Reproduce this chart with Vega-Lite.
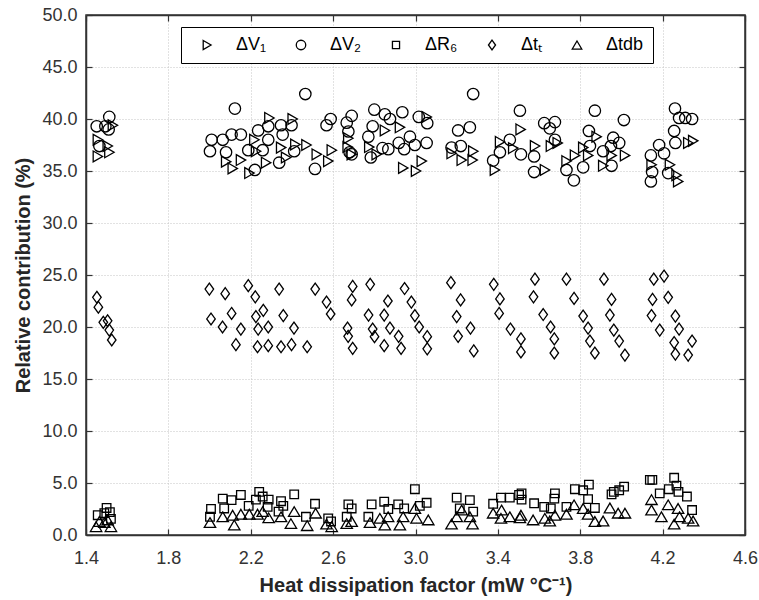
{
  "$schema": "https://vega.github.io/schema/vega-lite/v6.json",
  "width": 659,
  "height": 520,
  "autosize": {"type": "none"},
  "padding": {"left": 86, "top": 15, "right": 14, "bottom": 65},
  "background": "white",
  "config": {
    "font": "Liberation Sans",
    "view": {"stroke": "#333333", "strokeWidth": 1.5},
    "axis": {
      "labelFont": "Liberation Sans",
      "labelFontSize": 18,
      "labelColor": "#333333",
      "titleFont": "Liberation Sans",
      "titleFontSize": 20,
      "titleFontWeight": "bold",
      "titleColor": "#262626",
      "domainColor": "#333333",
      "domainWidth": 1.5,
      "tickColor": "#333333",
      "tickWidth": 1.2,
      "tickSize": -6,
      "gridColor": "#c4c4c4",
      "gridDash": [1, 2],
      "gridWidth": 1,
      "labelOverlap": false,
      "labelFlush": false
    }
  },
  "data": {
    "values": [
      {"s": "ΔV₁", "x": 1.457, "y": 38.0}, {"s": "ΔV₁", "x": 1.457, "y": 36.4}, {"s": "ΔV₁", "x": 1.505, "y": 37.4}, {"s": "ΔV₁", "x": 1.513, "y": 36.8}, {"s": "ΔV₁", "x": 1.53, "y": 39.4},
      {"s": "ΔV₁", "x": 2.08, "y": 35.9}, {"s": "ΔV₁", "x": 2.112, "y": 35.25}, {"s": "ΔV₁", "x": 2.152, "y": 36.05}, {"s": "ΔV₁", "x": 2.217, "y": 38.0}, {"s": "ΔV₁", "x": 2.193, "y": 34.8}, {"s": "ΔV₁", "x": 2.225, "y": 36.9}, {"s": "ΔV₁", "x": 2.274, "y": 35.8}, {"s": "ΔV₁", "x": 2.29, "y": 40.1}, {"s": "ΔV₁", "x": 2.347, "y": 37.25}, {"s": "ΔV₁", "x": 2.403, "y": 40.0}, {"s": "ΔV₁", "x": 2.416, "y": 37.55}, {"s": "ΔV₁", "x": 2.371, "y": 36.3}, {"s": "ΔV₁", "x": 2.47, "y": 37.5},
      {"s": "ΔV₁", "x": 2.52, "y": 36.6}, {"s": "ΔV₁", "x": 2.593, "y": 37.0}, {"s": "ΔV₁", "x": 2.576, "y": 35.95}, {"s": "ΔV₁", "x": 2.673, "y": 38.15}, {"s": "ΔV₁", "x": 2.67, "y": 37.3}, {"s": "ΔV₁", "x": 2.69, "y": 36.6}, {"s": "ΔV₁", "x": 2.851, "y": 38.9}, {"s": "ΔV₁", "x": 2.924, "y": 39.2}, {"s": "ΔV₁", "x": 2.775, "y": 37.3}, {"s": "ΔV₁", "x": 2.811, "y": 36.6}, {"s": "ΔV₁", "x": 2.94, "y": 35.3}, {"s": "ΔV₁", "x": 3.002, "y": 35.0}, {"s": "ΔV₁", "x": 3.03, "y": 35.95}, {"s": "ΔV₁", "x": 3.054, "y": 40.2}, {"s": "ΔV₁", "x": 3.175, "y": 36.7}, {"s": "ΔV₁", "x": 3.224, "y": 36.05}, {"s": "ΔV₁", "x": 3.28, "y": 36.9}, {"s": "ΔV₁", "x": 3.277, "y": 36.05}, {"s": "ΔV₁", "x": 3.385, "y": 35.1}, {"s": "ΔV₁", "x": 3.41, "y": 37.8}, {"s": "ΔV₁", "x": 3.474, "y": 37.2}, {"s": "ΔV₁", "x": 3.51, "y": 39.0},
      {"s": "ΔV₁", "x": 3.58, "y": 37.4}, {"s": "ΔV₁", "x": 3.628, "y": 35.1}, {"s": "ΔV₁", "x": 3.657, "y": 37.4}, {"s": "ΔV₁", "x": 3.69, "y": 37.7}, {"s": "ΔV₁", "x": 3.733, "y": 35.95}, {"s": "ΔV₁", "x": 3.774, "y": 36.5}, {"s": "ΔV₁", "x": 3.814, "y": 37.25}, {"s": "ΔV₁", "x": 3.838, "y": 36.5}, {"s": "ΔV₁", "x": 3.879, "y": 38.3}, {"s": "ΔV₁", "x": 3.911, "y": 35.5}, {"s": "ΔV₁", "x": 3.952, "y": 36.5}, {"s": "ΔV₁", "x": 4.017, "y": 36.5}, {"s": "ΔV₁", "x": 4.146, "y": 35.6}, {"s": "ΔV₁", "x": 4.235, "y": 35.6}, {"s": "ΔV₁", "x": 4.267, "y": 34.6}, {"s": "ΔV₁", "x": 4.275, "y": 34.0}, {"s": "ΔV₁", "x": 4.324, "y": 37.7}, {"s": "ΔV₁", "x": 4.348, "y": 37.9},

      {"s": "ΔV₂", "x": 1.452, "y": 39.3}, {"s": "ΔV₂", "x": 1.513, "y": 40.2}, {"s": "ΔV₂", "x": 1.494, "y": 39.3}, {"s": "ΔV₂", "x": 1.51, "y": 39.0}, {"s": "ΔV₂", "x": 1.465, "y": 37.4},
      {"s": "ΔV₂", "x": 2.123, "y": 41.0}, {"s": "ΔV₂", "x": 2.01, "y": 38.0}, {"s": "ΔV₂", "x": 2.002, "y": 36.9}, {"s": "ΔV₂", "x": 2.064, "y": 38.0}, {"s": "ΔV₂", "x": 2.08, "y": 36.8}, {"s": "ΔV₂", "x": 2.107, "y": 38.5}, {"s": "ΔV₂", "x": 2.152, "y": 38.5}, {"s": "ΔV₂", "x": 2.188, "y": 37.0}, {"s": "ΔV₂", "x": 2.236, "y": 38.9}, {"s": "ΔV₂", "x": 2.285, "y": 39.3}, {"s": "ΔV₂", "x": 2.285, "y": 38.0}, {"s": "ΔV₂", "x": 2.258, "y": 37.0}, {"s": "ΔV₂", "x": 2.22, "y": 35.1}, {"s": "ΔV₂", "x": 2.347, "y": 39.4}, {"s": "ΔV₂", "x": 2.355, "y": 38.5}, {"s": "ΔV₂", "x": 2.398, "y": 39.4}, {"s": "ΔV₂", "x": 2.411, "y": 36.9}, {"s": "ΔV₂", "x": 2.338, "y": 35.8}, {"s": "ΔV₂", "x": 2.465, "y": 42.4},
      {"s": "ΔV₂", "x": 2.512, "y": 35.2}, {"s": "ΔV₂", "x": 2.568, "y": 39.4}, {"s": "ΔV₂", "x": 2.588, "y": 40.0}, {"s": "ΔV₂", "x": 2.666, "y": 39.65}, {"s": "ΔV₂", "x": 2.69, "y": 40.3}, {"s": "ΔV₂", "x": 2.674, "y": 38.8}, {"s": "ΔV₂", "x": 2.69, "y": 36.6}, {"s": "ΔV₂", "x": 2.68, "y": 36.8}, {"s": "ΔV₂", "x": 2.8, "y": 40.9}, {"s": "ΔV₂", "x": 2.792, "y": 39.3}, {"s": "ΔV₂", "x": 2.771, "y": 38.3}, {"s": "ΔV₂", "x": 2.783, "y": 36.3}, {"s": "ΔV₂", "x": 2.84, "y": 37.2}, {"s": "ΔV₂", "x": 2.851, "y": 40.45}, {"s": "ΔV₂", "x": 2.876, "y": 40.0}, {"s": "ΔV₂", "x": 2.936, "y": 40.65}, {"s": "ΔV₂", "x": 2.868, "y": 37.1}, {"s": "ΔV₂", "x": 2.919, "y": 37.7}, {"s": "ΔV₂", "x": 2.973, "y": 38.3}, {"s": "ΔV₂", "x": 2.945, "y": 37.1}, {"s": "ΔV₂", "x": 2.997, "y": 37.5}, {"s": "ΔV₂", "x": 3.016, "y": 40.2}, {"s": "ΔV₂", "x": 3.057, "y": 39.6}, {"s": "ΔV₂", "x": 3.054, "y": 37.7}, {"s": "ΔV₂", "x": 3.28, "y": 42.4}, {"s": "ΔV₂", "x": 3.207, "y": 38.9}, {"s": "ΔV₂", "x": 3.264, "y": 39.2}, {"s": "ΔV₂", "x": 3.175, "y": 37.25}, {"s": "ΔV₂", "x": 3.22, "y": 37.4}, {"s": "ΔV₂", "x": 3.377, "y": 36.0}, {"s": "ΔV₂", "x": 3.41, "y": 36.8}, {"s": "ΔV₂", "x": 3.458, "y": 38.0}, {"s": "ΔV₂", "x": 3.507, "y": 40.8},
      {"s": "ΔV₂", "x": 3.512, "y": 36.6}, {"s": "ΔV₂", "x": 3.625, "y": 39.6}, {"s": "ΔV₂", "x": 3.652, "y": 39.1}, {"s": "ΔV₂", "x": 3.677, "y": 39.7}, {"s": "ΔV₂", "x": 3.677, "y": 38.0}, {"s": "ΔV₂", "x": 3.576, "y": 36.4}, {"s": "ΔV₂", "x": 3.576, "y": 34.9}, {"s": "ΔV₂", "x": 3.733, "y": 35.1}, {"s": "ΔV₂", "x": 3.769, "y": 34.1}, {"s": "ΔV₂", "x": 3.814, "y": 35.35}, {"s": "ΔV₂", "x": 3.842, "y": 38.85}, {"s": "ΔV₂", "x": 3.871, "y": 40.8}, {"s": "ΔV₂", "x": 3.847, "y": 37.4}, {"s": "ΔV₂", "x": 3.911, "y": 36.9}, {"s": "ΔV₂", "x": 3.96, "y": 38.2}, {"s": "ΔV₂", "x": 3.949, "y": 37.4}, {"s": "ΔV₂", "x": 3.989, "y": 37.7}, {"s": "ΔV₂", "x": 4.012, "y": 39.9}, {"s": "ΔV₂", "x": 3.952, "y": 35.5}, {"s": "ΔV₂", "x": 4.143, "y": 36.5}, {"s": "ΔV₂", "x": 4.183, "y": 37.5}, {"s": "ΔV₂", "x": 4.207, "y": 36.7}, {"s": "ΔV₂", "x": 4.149, "y": 34.9}, {"s": "ΔV₂", "x": 4.143, "y": 34.0}, {"s": "ΔV₂", "x": 4.227, "y": 34.8}, {"s": "ΔV₂", "x": 4.26, "y": 41.0}, {"s": "ΔV₂", "x": 4.28, "y": 40.1}, {"s": "ΔV₂", "x": 4.343, "y": 40.0}, {"s": "ΔV₂", "x": 4.31, "y": 40.1}, {"s": "ΔV₂", "x": 4.256, "y": 38.85}, {"s": "ΔV₂", "x": 4.262, "y": 37.7},

      {"s": "ΔR₆", "x": 1.457, "y": 1.9}, {"s": "ΔR₆", "x": 1.5, "y": 2.6}, {"s": "ΔR₆", "x": 1.516, "y": 2.2}, {"s": "ΔR₆", "x": 1.521, "y": 1.55}, {"s": "ΔR₆", "x": 1.489, "y": 2.1},
      {"s": "ΔR₆", "x": 2.007, "y": 2.5}, {"s": "ΔR₆", "x": 2.002, "y": 1.75}, {"s": "ΔR₆", "x": 2.064, "y": 3.5}, {"s": "ΔR₆", "x": 2.107, "y": 3.35}, {"s": "ΔR₆", "x": 2.152, "y": 3.85}, {"s": "ΔR₆", "x": 2.241, "y": 4.15}, {"s": "ΔR₆", "x": 2.225, "y": 3.4}, {"s": "ΔR₆", "x": 2.258, "y": 3.7}, {"s": "ΔR₆", "x": 2.287, "y": 3.4}, {"s": "ΔR₆", "x": 2.19, "y": 2.8}, {"s": "ΔR₆", "x": 2.071, "y": 2.55}, {"s": "ΔR₆", "x": 2.282, "y": 2.7}, {"s": "ΔR₆", "x": 2.347, "y": 3.25}, {"s": "ΔR₆", "x": 2.358, "y": 2.8}, {"s": "ΔR₆", "x": 2.411, "y": 3.9}, {"s": "ΔR₆", "x": 2.335, "y": 2.25}, {"s": "ΔR₆", "x": 2.468, "y": 1.75},
      {"s": "ΔR₆", "x": 2.512, "y": 3.0}, {"s": "ΔR₆", "x": 2.576, "y": 1.6}, {"s": "ΔR₆", "x": 2.59, "y": 1.3}, {"s": "ΔR₆", "x": 2.674, "y": 2.95}, {"s": "ΔR₆", "x": 2.69, "y": 2.55}, {"s": "ΔR₆", "x": 2.666, "y": 1.75}, {"s": "ΔR₆", "x": 2.787, "y": 2.95}, {"s": "ΔR₆", "x": 2.848, "y": 3.2}, {"s": "ΔR₆", "x": 2.868, "y": 2.5}, {"s": "ΔR₆", "x": 2.916, "y": 2.95}, {"s": "ΔR₆", "x": 2.945, "y": 2.55}, {"s": "ΔR₆", "x": 2.997, "y": 4.4}, {"s": "ΔR₆", "x": 3.021, "y": 2.8}, {"s": "ΔR₆", "x": 3.054, "y": 3.1}, {"s": "ΔR₆", "x": 2.771, "y": 1.75}, {"s": "ΔR₆", "x": 3.2, "y": 3.6}, {"s": "ΔR₆", "x": 3.264, "y": 3.35}, {"s": "ΔR₆", "x": 3.215, "y": 2.55}, {"s": "ΔR₆", "x": 3.28, "y": 2.25}, {"s": "ΔR₆", "x": 3.377, "y": 3.0}, {"s": "ΔR₆", "x": 3.415, "y": 3.6}, {"s": "ΔR₆", "x": 3.458, "y": 3.6}, {"s": "ΔR₆", "x": 3.503, "y": 3.85},
      {"s": "ΔR₆", "x": 3.515, "y": 4.0}, {"s": "ΔR₆", "x": 3.515, "y": 3.4}, {"s": "ΔR₆", "x": 3.576, "y": 3.05}, {"s": "ΔR₆", "x": 3.625, "y": 2.7}, {"s": "ΔR₆", "x": 3.657, "y": 2.55}, {"s": "ΔR₆", "x": 3.677, "y": 4.0}, {"s": "ΔR₆", "x": 3.674, "y": 3.5}, {"s": "ΔR₆", "x": 3.733, "y": 2.7}, {"s": "ΔR₆", "x": 3.774, "y": 4.4}, {"s": "ΔR₆", "x": 3.814, "y": 4.3}, {"s": "ΔR₆", "x": 3.842, "y": 4.85}, {"s": "ΔR₆", "x": 3.838, "y": 3.45}, {"s": "ΔR₆", "x": 3.871, "y": 2.6}, {"s": "ΔR₆", "x": 3.952, "y": 3.9}, {"s": "ΔR₆", "x": 3.963, "y": 4.15}, {"s": "ΔR₆", "x": 3.989, "y": 4.3}, {"s": "ΔR₆", "x": 4.013, "y": 4.65}, {"s": "ΔR₆", "x": 4.138, "y": 5.3}, {"s": "ΔR₆", "x": 4.15, "y": 5.3}, {"s": "ΔR₆", "x": 4.186, "y": 4.0}, {"s": "ΔR₆", "x": 4.23, "y": 4.4}, {"s": "ΔR₆", "x": 4.256, "y": 5.5}, {"s": "ΔR₆", "x": 4.267, "y": 4.75}, {"s": "ΔR₆", "x": 4.277, "y": 4.15}, {"s": "ΔR₆", "x": 4.318, "y": 3.7}, {"s": "ΔR₆", "x": 4.343, "y": 2.4},

      {"s": "Δtₜ", "x": 1.453, "y": 22.86}, {"s": "Δtₜ", "x": 1.46, "y": 21.9}, {"s": "Δtₜ", "x": 1.484, "y": 20.45}, {"s": "Δtₜ", "x": 1.505, "y": 20.6}, {"s": "Δtₜ", "x": 1.513, "y": 19.7}, {"s": "Δtₜ", "x": 1.525, "y": 18.75},
      {"s": "Δtₜ", "x": 1.999, "y": 23.65}, {"s": "Δtₜ", "x": 2.007, "y": 20.77}, {"s": "Δtₜ", "x": 2.076, "y": 23.2}, {"s": "Δtₜ", "x": 2.063, "y": 20.0}, {"s": "Δtₜ", "x": 2.107, "y": 21.3}, {"s": "Δtₜ", "x": 2.128, "y": 18.3}, {"s": "Δtₜ", "x": 2.152, "y": 19.8}, {"s": "Δtₜ", "x": 2.188, "y": 23.97}, {"s": "Δtₜ", "x": 2.222, "y": 22.9}, {"s": "Δtₜ", "x": 2.225, "y": 21.0}, {"s": "Δtₜ", "x": 2.261, "y": 21.6}, {"s": "Δtₜ", "x": 2.236, "y": 19.8}, {"s": "Δtₜ", "x": 2.285, "y": 20.0}, {"s": "Δtₜ", "x": 2.233, "y": 18.1}, {"s": "Δtₜ", "x": 2.285, "y": 18.2}, {"s": "Δtₜ", "x": 2.338, "y": 23.65}, {"s": "Δtₜ", "x": 2.358, "y": 21.1}, {"s": "Δtₜ", "x": 2.347, "y": 18.1}, {"s": "Δtₜ", "x": 2.398, "y": 18.3}, {"s": "Δtₜ", "x": 2.41, "y": 19.9}, {"s": "Δtₜ", "x": 2.474, "y": 18.1}, {"s": "Δtₜ", "x": 2.513, "y": 23.65}, {"s": "Δtₜ", "x": 2.568, "y": 22.4}, {"s": "Δtₜ", "x": 2.588, "y": 21.25},
      {"s": "Δtₜ", "x": 2.695, "y": 23.9}, {"s": "Δtₜ", "x": 2.69, "y": 22.6}, {"s": "Δtₜ", "x": 2.67, "y": 19.9}, {"s": "Δtₜ", "x": 2.673, "y": 19.1}, {"s": "Δtₜ", "x": 2.695, "y": 17.95}, {"s": "Δtₜ", "x": 2.78, "y": 24.1}, {"s": "Δtₜ", "x": 2.772, "y": 21.15}, {"s": "Δtₜ", "x": 2.792, "y": 19.8}, {"s": "Δtₜ", "x": 2.801, "y": 19.07}, {"s": "Δtₜ", "x": 2.866, "y": 22.5}, {"s": "Δtₜ", "x": 2.848, "y": 21.15}, {"s": "Δtₜ", "x": 2.876, "y": 19.9}, {"s": "Δtₜ", "x": 2.848, "y": 18.2}, {"s": "Δtₜ", "x": 2.918, "y": 19.1}, {"s": "Δtₜ", "x": 2.93, "y": 17.95}, {"s": "Δtₜ", "x": 2.947, "y": 23.7}, {"s": "Δtₜ", "x": 2.98, "y": 22.4}, {"s": "Δtₜ", "x": 2.997, "y": 21.1}, {"s": "Δtₜ", "x": 3.018, "y": 20.0}, {"s": "Δtₜ", "x": 3.057, "y": 19.07}, {"s": "Δtₜ", "x": 3.057, "y": 17.9},
      {"s": "Δtₜ", "x": 3.172, "y": 24.26}, {"s": "Δtₜ", "x": 3.219, "y": 22.6}, {"s": "Δtₜ", "x": 3.2, "y": 21.0}, {"s": "Δtₜ", "x": 3.207, "y": 19.1}, {"s": "Δtₜ", "x": 3.267, "y": 19.9}, {"s": "Δtₜ", "x": 3.283, "y": 17.7}, {"s": "Δtₜ", "x": 3.38, "y": 24.1}, {"s": "Δtₜ", "x": 3.41, "y": 22.7}, {"s": "Δtₜ", "x": 3.406, "y": 21.3}, {"s": "Δtₜ", "x": 3.461, "y": 19.8}, {"s": "Δtₜ", "x": 3.512, "y": 18.85}, {"s": "Δtₜ", "x": 3.512, "y": 17.6}, {"s": "Δtₜ", "x": 3.58, "y": 24.6}, {"s": "Δtₜ", "x": 3.573, "y": 22.9}, {"s": "Δtₜ", "x": 3.62, "y": 21.2}, {"s": "Δtₜ", "x": 3.656, "y": 20.0}, {"s": "Δtₜ", "x": 3.674, "y": 18.85}, {"s": "Δtₜ", "x": 3.674, "y": 17.5},
      {"s": "Δtₜ", "x": 3.733, "y": 24.6}, {"s": "Δtₜ", "x": 3.77, "y": 22.75}, {"s": "Δtₜ", "x": 3.814, "y": 21.05}, {"s": "Δtₜ", "x": 3.838, "y": 19.9}, {"s": "Δtₜ", "x": 3.847, "y": 18.65}, {"s": "Δtₜ", "x": 3.871, "y": 17.5}, {"s": "Δtₜ", "x": 3.915, "y": 24.6}, {"s": "Δtₜ", "x": 3.952, "y": 22.65}, {"s": "Δtₜ", "x": 3.944, "y": 21.15}, {"s": "Δtₜ", "x": 3.963, "y": 19.7}, {"s": "Δtₜ", "x": 3.989, "y": 18.65}, {"s": "Δtₜ", "x": 4.017, "y": 17.3},
      {"s": "Δtₜ", "x": 4.157, "y": 24.6}, {"s": "Δtₜ", "x": 4.207, "y": 24.9}, {"s": "Δtₜ", "x": 4.151, "y": 22.65}, {"s": "Δtₜ", "x": 4.146, "y": 21.1}, {"s": "Δtₜ", "x": 4.186, "y": 19.7}, {"s": "Δtₜ", "x": 4.227, "y": 22.85}, {"s": "Δtₜ", "x": 4.262, "y": 21.05}, {"s": "Δtₜ", "x": 4.28, "y": 19.8}, {"s": "Δtₜ", "x": 4.256, "y": 18.5}, {"s": "Δtₜ", "x": 4.262, "y": 17.4}, {"s": "Δtₜ", "x": 4.343, "y": 18.65}, {"s": "Δtₜ", "x": 4.324, "y": 17.3},

      {"s": "Δtdb", "x": 1.449, "y": 0.8}, {"s": "Δtdb", "x": 1.465, "y": 1.3}, {"s": "Δtdb", "x": 1.489, "y": 1.2}, {"s": "Δtdb", "x": 1.505, "y": 1.45}, {"s": "Δtdb", "x": 1.521, "y": 0.8},
      {"s": "Δtdb", "x": 2.002, "y": 1.2}, {"s": "Δtdb", "x": 2.064, "y": 1.75}, {"s": "Δtdb", "x": 2.112, "y": 1.9}, {"s": "Δtdb", "x": 2.12, "y": 0.95}, {"s": "Δtdb", "x": 2.152, "y": 2.0}, {"s": "Δtdb", "x": 2.193, "y": 2.0}, {"s": "Δtdb", "x": 2.233, "y": 2.0}, {"s": "Δtdb", "x": 2.258, "y": 2.25}, {"s": "Δtdb", "x": 2.287, "y": 1.65}, {"s": "Δtdb", "x": 2.347, "y": 1.75}, {"s": "Δtdb", "x": 2.395, "y": 1.1}, {"s": "Δtdb", "x": 2.411, "y": 2.25},
      {"s": "Δtdb", "x": 2.474, "y": 0.9}, {"s": "Δtdb", "x": 2.515, "y": 2.1}, {"s": "Δtdb", "x": 2.568, "y": 1.05}, {"s": "Δtdb", "x": 2.593, "y": 0.8}, {"s": "Δtdb", "x": 2.666, "y": 1.1}, {"s": "Δtdb", "x": 2.69, "y": 1.3}, {"s": "Δtdb", "x": 2.779, "y": 1.2}, {"s": "Δtdb", "x": 2.827, "y": 1.6}, {"s": "Δtdb", "x": 2.851, "y": 0.95}, {"s": "Δtdb", "x": 2.867, "y": 1.75}, {"s": "Δtdb", "x": 2.924, "y": 0.95}, {"s": "Δtdb", "x": 2.94, "y": 1.75}, {"s": "Δtdb", "x": 2.997, "y": 2.55}, {"s": "Δtdb", "x": 3.005, "y": 1.6}, {"s": "Δtdb", "x": 3.062, "y": 1.45}, {"s": "Δtdb", "x": 3.175, "y": 1.05}, {"s": "Δtdb", "x": 3.2, "y": 1.75}, {"s": "Δtdb", "x": 3.224, "y": 2.4}, {"s": "Δtdb", "x": 3.264, "y": 1.75}, {"s": "Δtdb", "x": 3.277, "y": 1.05}, {"s": "Δtdb", "x": 3.377, "y": 2.1}, {"s": "Δtdb", "x": 3.418, "y": 2.4}, {"s": "Δtdb", "x": 3.415, "y": 1.6}, {"s": "Δtdb", "x": 3.458, "y": 1.75}, {"s": "Δtdb", "x": 3.507, "y": 1.65},
      {"s": "Δtdb", "x": 3.512, "y": 1.9}, {"s": "Δtdb", "x": 3.571, "y": 1.45}, {"s": "Δtdb", "x": 3.628, "y": 1.6}, {"s": "Δtdb", "x": 3.652, "y": 1.35}, {"s": "Δtdb", "x": 3.677, "y": 1.9}, {"s": "Δtdb", "x": 3.733, "y": 2.0}, {"s": "Δtdb", "x": 3.77, "y": 2.9}, {"s": "Δtdb", "x": 3.814, "y": 2.55}, {"s": "Δtdb", "x": 3.838, "y": 2.0}, {"s": "Δtdb", "x": 3.871, "y": 1.3}, {"s": "Δtdb", "x": 3.911, "y": 1.35}, {"s": "Δtdb", "x": 3.944, "y": 2.6}, {"s": "Δtdb", "x": 3.984, "y": 2.1}, {"s": "Δtdb", "x": 4.017, "y": 2.1}, {"s": "Δtdb", "x": 4.146, "y": 3.4}, {"s": "Δtdb", "x": 4.146, "y": 2.4}, {"s": "Δtdb", "x": 4.194, "y": 1.75}, {"s": "Δtdb", "x": 4.227, "y": 2.9}, {"s": "Δtdb", "x": 4.256, "y": 1.05}, {"s": "Δtdb", "x": 4.275, "y": 2.55}, {"s": "Δtdb", "x": 4.282, "y": 1.75}, {"s": "Δtdb", "x": 4.324, "y": 1.6}, {"s": "Δtdb", "x": 4.348, "y": 1.35}
    ]
  },
  "layer": [
    {
      "mark": {"type": "point", "filled": false, "stroke": "black", "strokeWidth": 1.3, "size": 130, "opacity": 1},
      "encoding": {
        "x": {
          "field": "x", "type": "quantitative",
          "scale": {"domain": [1.4, 4.6], "nice": false, "zero": false},
          "axis": {"orient": "bottom", "values": [1.4, 1.8, 2.2, 2.6, 3.0, 3.4, 3.8, 4.2, 4.6], "format": ".1f", "grid": true, "labelPadding": 20, "title": "Heat dissipation factor (mW °C⁻¹)", "titlePadding": 8}
        },
        "y": {
          "field": "y", "type": "quantitative",
          "scale": {"domain": [0, 50], "nice": false, "zero": true},
          "axis": {"orient": "left", "values": [0, 5, 10, 15, 20, 25, 30, 35, 40, 45, 50], "format": ".1f", "grid": true, "labelPadding": 15, "title": "Relative contribution (%)", "titlePadding": 8}
        },
        "shape": {
          "field": "s", "type": "nominal",
          "scale": {
            "domain": ["ΔV₁", "ΔV₂", "ΔR₆", "Δtₜ", "Δtdb"],
            "range": [
              "M-0.8,-0.95L0.85,0L-0.8,0.95Z",
              "circle",
              "M-0.75,-0.75L0.75,-0.75L0.75,0.75L-0.75,0.75Z",
              "M0,-1.05L0.75,0L0,1.05L-0.75,0Z",
              "M0,-0.85L1,0.85L-1,0.85Z"
            ]
          },
          "legend": {
            "orient": "none", "legendX": 95, "legendY": 12,
            "direction": "horizontal", "columns": 5, "title": null,
            "strokeColor": "black", "fillColor": "white", "padding": 9,
            "labelFont": "Liberation Sans", "labelFontSize": 18, "labelColor": "#000000",
            "symbolStrokeColor": "black", "symbolStrokeWidth": 1.3, "symbolSize": 90,
            "symbolFillColor": "transparent", "symbolOffset": 8, "labelOffset": 20, "columnPadding": 17
          }
        }
      }
    },
    {
      "mark": {"type": "point", "opacity": 0},
      "encoding": {
        "x": {"field": "x", "type": "quantitative", "axis": {"orient": "top", "values": [1.4, 1.8, 2.2, 2.6, 3.0, 3.4, 3.8, 4.2, 4.6], "labels": false, "grid": false, "title": null}},
        "y": {"field": "y", "type": "quantitative", "axis": {"orient": "right", "values": [0, 5, 10, 15, 20, 25, 30, 35, 40, 45, 50], "labels": false, "grid": false, "title": null}}
      }
    }
  ],
  "resolve": {"axis": {"x": "independent", "y": "independent"}}
}
